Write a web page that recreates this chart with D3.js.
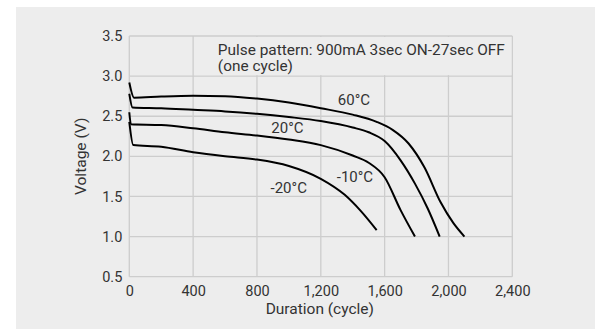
<!DOCTYPE html>
<html>
<head>
<meta charset="utf-8">
<script src="https://cdn.jsdelivr.net/npm/d3@7"></script>
<style>
  body { margin: 0; background: #fff; }
  text { font-family: Roboto, "DejaVu Sans", sans-serif; fill: #333; }
</style>
</head>
<body>
<div id="chart"></div>
<script>
// Discharge curves: [cycles, volts]
const curve60 = [[0, 2.92], [30, 2.73], [200, 2.745], [400, 2.755], [600, 2.75], [800, 2.72], [1000, 2.67], [1200, 2.60], [1400, 2.52], [1550, 2.43], [1650, 2.33], [1750, 2.16], [1850, 1.86], [1950, 1.43], [2030, 1.17], [2100, 1.0]];
const curve20 = [[0, 2.78], [20, 2.61], [200, 2.60], [400, 2.58], [600, 2.56], [800, 2.53], [1000, 2.49], [1200, 2.44], [1400, 2.36], [1500, 2.30], [1600, 2.19], [1700, 1.95], [1790, 1.66], [1870, 1.35], [1945, 1.0]];
const curveM10 = [[0, 2.55], [10, 2.40], [200, 2.39], [400, 2.35], [600, 2.30], [800, 2.26], [1000, 2.21], [1200, 2.14], [1400, 2.01], [1500, 1.92], [1600, 1.74], [1700, 1.33], [1790, 1.0]];
const curveM20 = [[0, 2.43], [25, 2.14], [200, 2.12], [400, 2.05], [600, 2.0], [800, 1.96], [1000, 1.88], [1200, 1.72], [1350, 1.52], [1450, 1.32], [1550, 1.08]];

const curveLabels = ['60°C', '20°C', '-10°C', '-20°C'];
const labelAt = [[1408, 2.64], [991, 2.29], [1414, 1.685], [999, 1.547]];

const xTicks = [0, 400, 800, 1200, 1600, 2000, 2400];
const yTicks = [0.5, 1.0, 1.5, 2.0, 2.5, 3.0, 3.5];

const W = 595, H = 329;
const margin = {top: 36, right: 82.7, bottom: 52.3, left: 129.3};
const width = W - margin.left - margin.right,
      height = H - margin.top - margin.bottom;

const svg = d3.select('#chart').append('svg')
    .attr('width', W)
    .attr('height', H);

// grey panel
svg.append('rect')
    .attr('x', 16).attr('y', 7)
    .attr('width', W - 16).attr('height', H - 7)
    .attr('fill', '#ededed');

const g = svg.append('g')
    .attr('transform', `translate(${margin.left},${margin.top})`);

const x = d3.scaleLinear().domain([0, 2400]).range([0, width]);
const y = d3.scaleLinear().domain([0.5, 3.5]).range([height, 0]);

// grid
g.selectAll('.vgrid').data(xTicks).join('line')
    .attr('x1', d => x(d)).attr('x2', d => x(d))
    .attr('y1', 0).attr('y2', height)
    .attr('stroke', '#cdcdcd').attr('stroke-width', 1.3);
g.selectAll('.hgrid').data(yTicks).join('line')
    .attr('x1', 0).attr('x2', width)
    .attr('y1', d => y(d)).attr('y2', d => y(d))
    .attr('stroke', '#cdcdcd').attr('stroke-width', 1.3);

// note box hides the grid behind the pulse text
g.append('rect')
    .attr('x', x(400) + 1).attr('y', y(3.5) + 1)
    .attr('width', x(2400) - x(400) - 2)
    .attr('height', y(3.0) - y(3.5) - 2)
    .attr('fill', '#ededed');

// tick labels
const xAxis = g.append('g')
    .attr('transform', `translate(0,${height})`)
    .call(d3.axisBottom(x).tickValues(xTicks).tickSize(0).tickPadding(9)
        .tickFormat(d3.format(',')));
xAxis.select('.domain').remove();
xAxis.selectAll('text').attr('font-size', 14.5).attr('fill', '#333').style('font-family', 'Roboto, sans-serif');

const yAxis = g.append('g')
    .call(d3.axisLeft(y).tickValues(yTicks).tickSize(0).tickPadding(7)
        .tickFormat(d3.format('.1f')));
yAxis.select('.domain').remove();
yAxis.selectAll('text').attr('font-size', 14.5).attr('fill', '#333').style('font-family', 'Roboto, sans-serif');

// axis titles
g.append('text')
    .attr('x', width / 2 - 1).attr('y', height + 37.5)
    .attr('text-anchor', 'middle')
    .attr('font-size', 15.5)
    .text('Duration (cycle)');
g.append('text')
    .attr('transform', `translate(${-43},${height / 2}) rotate(-90)`)
    .attr('text-anchor', 'middle')
    .attr('font-size', 15.5)
    .text('Voltage (V)');

// pulse note
const note = g.append('text')
    .attr('x', x(555)).attr('y', y(3.5) + 18.5)
    .attr('font-size', 15.4);
note.append('tspan').text('Pulse pattern: 900mA 3sec ON-27sec OFF');
note.append('tspan').attr('x', x(555)).attr('dy', 16.5).text('(one cycle)');

// curves
const line = d3.line()
    .x(d => x(d[0]))
    .y(d => y(d[1]))
    .curve(d3.curveMonotoneX);

g.selectAll('.curve').data([curve60, curve20, curveM10, curveM20]).join('path')
    .attr('d', line)
    .attr('fill', 'none')
    .attr('stroke', '#000')
    .attr('stroke-width', 2);

g.selectAll('.clabel').data(curveLabels).join('text')
    .attr('x', (d, i) => x(labelAt[i][0]))
    .attr('y', (d, i) => y(labelAt[i][1]))
    .attr('text-anchor', 'middle')
    .attr('font-size', 15)
    .text(d => d);
</script>
</body>
</html>
